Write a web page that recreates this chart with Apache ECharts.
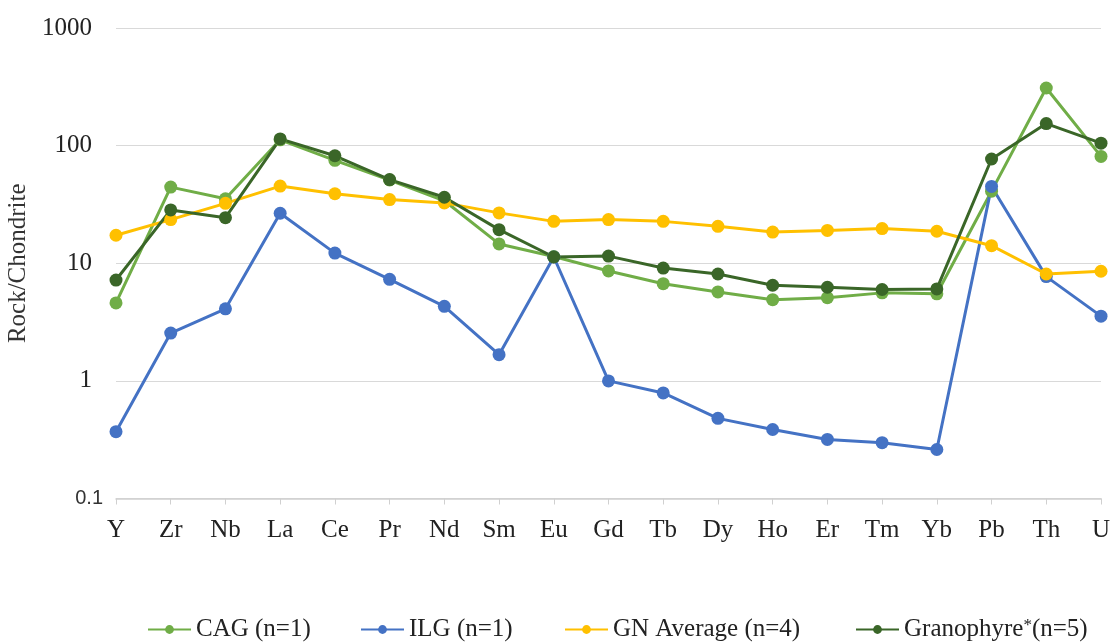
<!DOCTYPE html>
<html><head><meta charset="utf-8">
<script src="https://cdn.jsdelivr.net/npm/echarts@6/dist/echarts.min.js"></script>
<style>html,body{margin:0;padding:0;background:#fff}#c{width:1112px;height:643px}</style>
</head><body><div id="c"></div>
<script>
const categories = ['Y','Zr','Nb','La','Ce','Pr','Nd','Sm','Eu','Gd','Tb','Dy','Ho','Er','Tm','Yb','Pb','Th','U'];
const cag  = [4.6, 44.4, 35.3, 112, 75, 51, 34, 14.6, 11.4, 8.6, 6.7, 5.7, 4.9, 5.1, 5.6, 5.5, 41, 309, 81];
const ilg  = [0.37, 2.55, 4.1, 26.6, 12.2, 7.3, 4.3, 1.67, 11.3, 1.0, 0.79, 0.48, 0.386, 0.318, 0.298, 0.261, 45, 7.7, 3.55];
const gn   = [17.3, 23.5, 32.3, 45.3, 39, 34.8, 32.6, 26.8, 22.7, 23.5, 22.7, 20.6, 18.4, 19.0, 19.7, 18.7, 14.1, 8.1, 8.55];
const gran = [7.2, 28.4, 24.4, 114, 82, 51.4, 36.4, 19.3, 11.3, 11.5, 9.1, 8.1, 6.5, 6.25, 5.98, 6.05, 77, 154, 105];
const seriesNames = ['CAG (n=1)', 'ILG (n=1)', 'GN Average (n=4)', 'Granophyre*(n=5)'];
const colors = ['#70AD47', '#4472C4', '#FFC000', '#3A6628'];

const font = '"Liberation Serif", "Times New Roman", serif';
const chart = echarts.init(document.getElementById('c'));
const mk = (name, data, color) => ({
  name, type: 'line', data, symbol: 'circle', symbolSize: 13,
  lineStyle: { width: 3, color }, itemStyle: { color }, color
});
const legendLefts = [147, 360, 564, 855];
const mkLegend = (i) => ({
  data: [seriesNames[i]], left: legendLefts[i], top: 617, padding: 0,
  itemWidth: 43, itemHeight: 11, itemGap: 0,
  textStyle: { fontFamily: font, fontSize: 25, color: '#222', lineHeight: 25,
    rich: { sup: { fontFamily: font, fontSize: 17, color: '#222', lineHeight: 12, verticalAlign: 'top' },
            n: { fontFamily: font, fontSize: 25, color: '#222', lineHeight: 25 } } },
  formatter: n => n === 'Granophyre*(n=5)' ? '{n|Granophyre}{sup|*}{n|(n=5)}' : n
});
chart.setOption({
  animation: false,
  grid: { left: 116, right: 11, top: 28, bottom: 144.5, outerBoundsMode: 'none', containLabel: false },
  legend: [mkLegend(0), mkLegend(1), mkLegend(2), mkLegend(3)],
  xAxis: {
    type: 'category', data: categories, boundaryGap: false,
    axisLine: { lineStyle: { color: '#d0d0d0', width: 1.5 } },
    axisTick: { show: true, length: 6, lineStyle: { color: '#d0d0d0' } },
    axisLabel: { fontFamily: font, fontSize: 25, color: '#222', margin: 19 }
  },
  yAxis: {
    type: 'log', logBase: 10, min: 0.1, max: 1000,
    name: 'Rock/Chondrite', nameLocation: 'middle', nameGap: 81, nameRotate: 90,
    nameTextStyle: { fontFamily: font, fontSize: 25, color: '#333' },
    axisLine: { show: false }, axisTick: { show: false },
    splitLine: { lineStyle: { color: '#d9d9d9', width: 1.2 } },
    axisLabel: {
      margin: 13, fontFamily: font, fontSize: 25, color: '#222',
      formatter: v => v < 0.5 ? '{s|0.1}' : '{b|' + (v >= 1 ? Math.round(v) : v) + '}',
      rich: {
        b: { fontFamily: font, fontSize: 25, color: '#222', padding: [0, 11, 0, 0] },
        s: { fontFamily: '"Liberation Sans", Arial, sans-serif', fontSize: 20, color: '#333', padding: [0, 0, 0, 0] }
      }
    }
  },
  series: [mk(seriesNames[0], cag, colors[0]), mk(seriesNames[1], ilg, colors[1]),
           mk(seriesNames[2], gn, colors[2]), mk(seriesNames[3], gran, colors[3])]
});
</script></body></html>
